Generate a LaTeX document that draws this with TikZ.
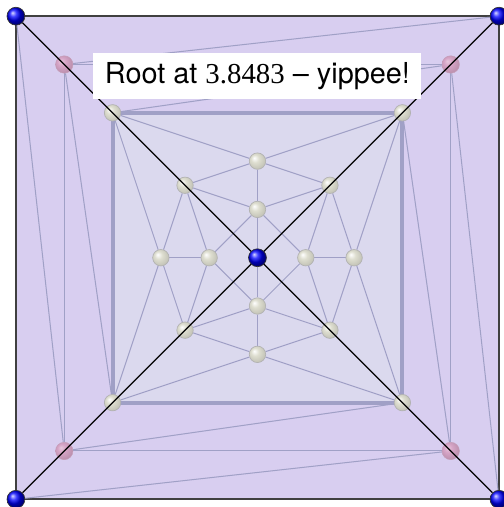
\documentclass[tikz,border=0pt]{standalone}
\usepackage{xcolor}
\usepackage{tikz}
\usepackage{fontspec}
\setmainfont{TeX Gyre Heros}
\newfontfamily\numfont{Liberation Serif}

\definecolor{outerfill}{RGB}{216,206,240}
\definecolor{innerfill}{RGB}{219,217,238}
\definecolor{edgecol}{RGB}{160,160,198}
\definecolor{ballgray}{RGB}{222,222,208}
\definecolor{ballpink}{RGB}{214,164,198}

\pgfdeclareradialshading{softgray}{\pgfqpoint{-10bp}{10bp}}{color(0bp)=(white); color(12bp)=(ballgray); color(28bp)=(ballgray!88!black); color(50bp)=(ballgray!65!black)}
\pgfdeclareradialshading{softpink}{\pgfqpoint{-10bp}{10bp}}{color(0bp)=(ballpink!60!white); color(12bp)=(ballpink); color(28bp)=(ballpink!88!black); color(50bp)=(ballpink!70!black)}

\pgfdeclarelayer{background}
\pgfdeclarelayer{front}
\pgfsetlayers{background,main,front}

\tikzset{
  blueball/.style={circle, inner sep=0pt, minimum size=0.37cm, shading=ball, ball color=blue, draw=black!80, line width=0.4pt},
  grayball/.style={circle, inner sep=0pt, minimum size=0.34cm, shading=softgray, draw=gray!60, line width=0.4pt},
  pinkball/.style={circle, inner sep=0pt, minimum size=0.36cm, shading=softpink, draw=ballpink!80!gray, line width=0.3pt},
  thinedge/.style={draw=edgecol, line width=0.6pt},
  rootbox/.style={fill=white, inner sep=0pt, minimum width=6.79cm, minimum height=0.965cm, font=\fontsize{17}{20}\selectfont}
}

\begin{document}
\begin{tikzpicture}

\useasboundingbox (-5.33,-5.16) rectangle (5.10,5.335);

% outer, pink and gray corners
\foreach \n/\x/\y in {NE/1/1, NW/-1/1, SW/-1/-1, SE/1/-1} {
  \node[pinkball] (p\n) at (4*\x,4*\y) {};
  \node[grayball] (g\n) at (3*\x,3*\y) {};
  \node[grayball] (d\n) at (1.5*\x,1.5*\y) {};
}

% axis nodes
\node[grayball] (aN2) at (0,2) {};
\node[grayball] (aN1) at (0,1) {};
\node[grayball] (aS1) at (0,-1) {};
\node[grayball] (aS2) at (0,-2) {};
\node[grayball] (aW2) at (-2,0) {};
\node[grayball] (aW1) at (-1,0) {};
\node[grayball] (aE1) at (1,0) {};
\node[grayball] (aE2) at (2,0) {};

\begin{pgfonlayer}{front}
\node[blueball] (o) at (0,0) {};
\foreach \n/\x/\y in {NE/1/1, NW/-1/1, SW/-1/-1, SE/1/-1}
  \node[blueball] (c\n) at (5*\x,5*\y) {};
\end{pgfonlayer}

\begin{pgfonlayer}{background}
\draw[fill=outerfill, draw=black!75, line width=1.2pt] (cNE.center) -- (cNW.center) -- (cSW.center) -- (cSE.center) -- cycle;
\draw[fill=innerfill, draw=edgecol, line width=2.4pt] (gNE.center) -- (gNW.center) -- (gSW.center) -- (gSE.center) -- cycle;

% outer ring
\draw[thinedge] (pNE) -- (pNW) -- (pSW) -- (pSE) -- (pNE);
\foreach \a/\b in {cNE/pNW, cNW/pSW, cSW/pSE, cSE/pNE,
                   pNE/gNW, pNW/gSW, pSW/gSE, pSE/gNE}
  \draw[thinedge] (\a) -- (\b);

% inner square
\foreach \a/\b in {gNW/aN2, gNW/aW2, gNE/aN2, gNE/aE2,
                   gSE/aS2, gSE/aE2, gSW/aS2, gSW/aW2,
                   dNW/aN2, dNW/aN1, dNW/aW2, dNW/aW1,
                   dNE/aN2, dNE/aN1, dNE/aE2, dNE/aE1,
                   dSE/aS2, dSE/aS1, dSE/aE2, dSE/aE1,
                   dSW/aS2, dSW/aS1, dSW/aW2, dSW/aW1}
  \draw[thinedge] (\a) -- (\b);
\draw[thinedge] (aN1) -- (aE1) -- (aS1) -- (aW1) -- (aN1);
\draw[thinedge] (aN2) -- (aN1) -- (o) -- (aS1) -- (aS2);
\draw[thinedge] (aW2) -- (aW1);
\draw[thinedge] (aE1) -- (aE2);
\end{pgfonlayer}

\draw[line width=0.8pt] (cNW) -- (cSE);
\draw[line width=0.8pt] (cSW) -- (cNE);

\node[rootbox] (root) at (0,3.76) {Root at {\numfont 3.8483} \textendash{} yippee!};

\end{tikzpicture}
\end{document}
